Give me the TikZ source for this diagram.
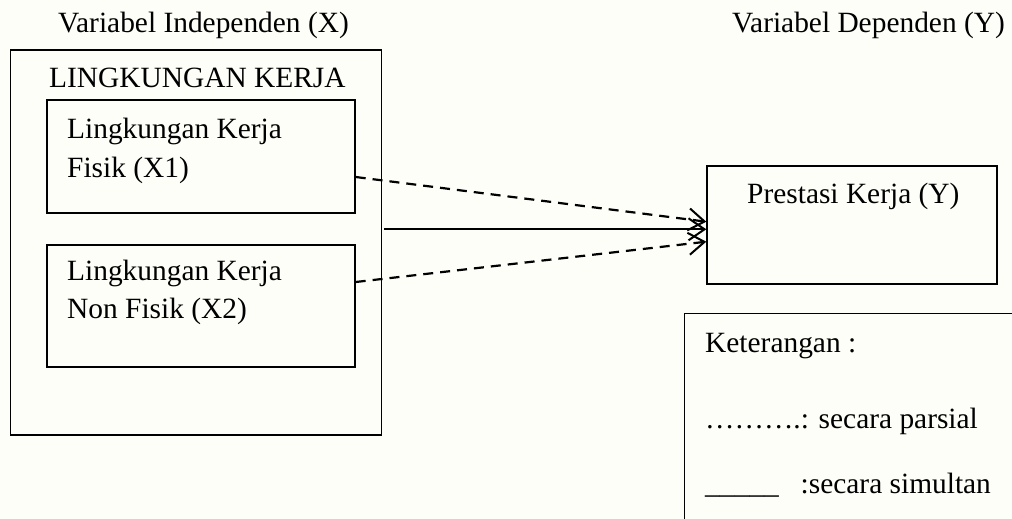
\documentclass[tikz,border=0pt]{standalone}
\usepackage{fontspec}
\setmainfont{Liberation Serif}
\usetikzlibrary{arrows.meta,positioning}

\definecolor{kertas}{RGB}{254,254,249}
\tikzset{
  kotak/.style={draw,line width=1.4pt,inner sep=0pt},
  teks/.style={anchor=base west,inner sep=0pt,font=\fontsize{29.4}{35}\selectfont},
  panah/.style={line width=2.2pt,-{Straight Barb[length=16pt,width=22pt,line width=2pt]}},
  putus/.style={panah,dash pattern=on 10pt off 7pt},
}

\begin{document}
\begin{tikzpicture}[x=1pt,y=-1pt]
\fill[kertas] (0,0) rectangle (1012,519);
\useasboundingbox (0,0) rectangle (1012,519);
\clip (0,0) rectangle (1012,519);

%%%%%%%%%%% variabel independen
\node[teks] (judulx) at (58,33) {Variabel Independen (X)};
\node[kotak,minimum width=371pt,minimum height=385pt] (luar) at (196,242.5) {};
\node[teks] (lingkungan) at (49,88) {LINGKUNGAN KERJA};
% ---------------    X1
\node[kotak,minimum width=308pt,minimum height=113pt] (fisik) at (201,156.5) {};
\node[teks] (fisika) at (67,138) {Lingkungan Kerja};
\node[teks] (fisikb) at (67,177) {Fisik (X1)};
% ---------------    X2
\node[kotak,minimum width=308pt,minimum height=122pt] (nonfisik) at (201,306) {};
\node[teks] (nonfisika) at (67,280) {Lingkungan Kerja};
\node[teks] (nonfisikb) at (67,318) {Non Fisik (X2)};

%%%%%%%%%%% variabel dependen
\node[teks] (juduly) at (732,33) {Variabel Dependen (Y)};
\node[kotak,minimum width=290pt,minimum height=118pt] (prestasi) at (852,225) {};
\node[teks] (prestasiteks) at (747,203) {Prestasi Kerja (Y)};

%%%%%%%%%%% keterangan
\node[kotak,anchor=north west,minimum width=360pt,minimum height=240pt] (ket) at (684,313) {};
\node[teks] (ketjudul) at (705,352) {Keterangan :};
\node[teks] (ketparsial) at (705,428) {……….: secara parsial};
\node[teks] (ketsimultan) at (705,493) {\_\_\_\_\_\hspace{22pt}:secara simultan};

%%%%%%%%%%% panah
\draw[putus] ([yshift=-20.5pt]fisik.east) -- ([yshift=3.3pt]prestasi.west);
\draw[panah] ([xshift=2pt,yshift=13.2pt]luar.east) -- ([yshift=-4.3pt]prestasi.west);
\draw[putus] ([yshift=24pt]nonfisik.east) -- ([yshift=-16.7pt]prestasi.west);
\end{tikzpicture}
\end{document}
